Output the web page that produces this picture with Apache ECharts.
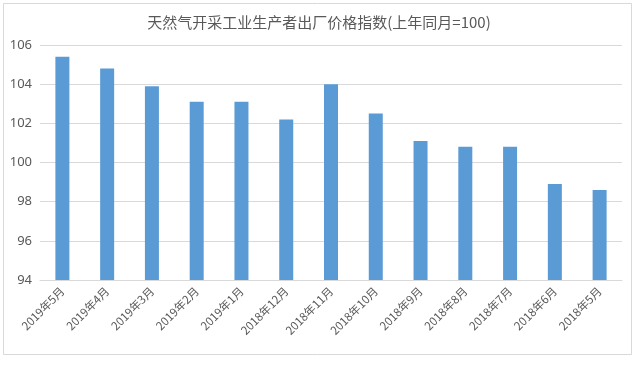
<!DOCTYPE html>
<html><head><meta charset="utf-8">
<script src="https://cdn.jsdelivr.net/npm/echarts@6/dist/echarts.min.js"></script>
<style>html,body{margin:0;padding:0;background:#fff}#c{width:638px;height:365px}</style>
</head><body><div id="c"></div>
<script>
const categories = ['2019年5月','2019年4月','2019年3月','2019年2月','2019年1月','2018年12月','2018年11月','2018年10月','2018年9月','2018年8月','2018年7月','2018年6月','2018年5月'];
const values = [105.4,104.8,103.9,103.1,103.1,102.2,104.0,102.5,101.1,100.8,100.8,98.9,98.6];
const titleText = '天然气开采工业生产者出厂价格指数(上年同月=100)';
const chart = echarts.init(document.getElementById('c'), null, {renderer:'canvas'});
chart.setOption({
  animation:false,
  backgroundColor:'#fff',
  graphic:[{type:'rect',shape:{x:3.5,y:3.5,width:628,height:351},style:{fill:'none',stroke:'#d9d9d9',lineWidth:1},silent:true,z:-1}],
  title:{text:titleText,left:'center',top:10,textStyle:{fontFamily:'Noto Sans CJK SC',fontSize:15,fontWeight:'normal',color:'#595959'}},
  grid:{left:40,right:16,top:45,bottom:85},
  xAxis:{type:'category',data:categories,
    axisLine:{lineStyle:{color:'#d9d9d9'}},axisTick:{show:false},
    axisLabel:{rotate:45,interval:0,color:'#595959',fontSize:11.5,fontFamily:'Noto Sans CJK SC',margin:9}},
  yAxis:{type:'value',min:94,max:106,interval:2,
    axisLine:{show:false},axisTick:{show:false},
    splitLine:{lineStyle:{color:'#d9d9d9'}},
    axisLabel:{color:'#595959',fontSize:13,fontFamily:'Noto Sans',margin:8}},
  series:[{type:'bar',data:values,barWidth:14,itemStyle:{color:'#5B9BD5'}}]
});
</script></body></html>
